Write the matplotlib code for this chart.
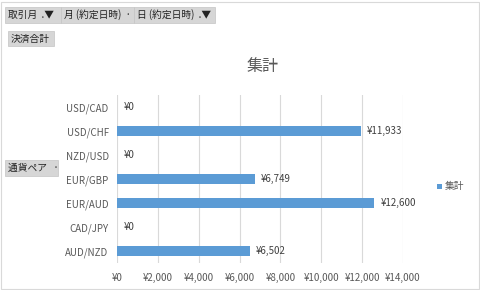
import matplotlib.pyplot as plt
from matplotlib.patches import Rectangle

# --- datos ---
pares = ["AUD/NZD", "CAD/JPY", "EUR/AUD", "EUR/GBP", "NZD/USD", "USD/CHF", "USD/CAD"]
totales = [6502, 0, 12600, 6749, 0, 11933, 0]
ticks_x = [0, 2000, 4000, 6000, 8000, 10000, 12000, 14000]

plt.rcParams['font.family'] = ['Noto Sans CJK JP', 'DejaVu Sans']

azul = "#5b9bd5"
gris_txt = "#595959"

fig = plt.figure(figsize=(4.8, 2.9), dpi=100)
W, H = 480, 290

# marco exterior
fig.patches.append(Rectangle((1 / W, 1 / H), 478 / W, 287 / H, transform=fig.transFigure,
                             fill=False, edgecolor="#d9d9d9", linewidth=0.8))


def boton(x0, y0, w, h, texto, size=7):
    # botones grises tipo tabla dinamica
    fig.patches.append(Rectangle((x0 / W, 1 - (y0 + h) / H), w / W, h / H,
                                 transform=fig.transFigure, facecolor="#d6d6d6",
                                 edgecolor="#c4c4c4", linewidth=0.5))
    fig.text((x0 + 3) / W, 1 - (y0 + h / 2) / H, texto, fontsize=size,
             va="center", ha="left", color="#222222")


# barra de filtros
boton(5, 7, 56, 16, "取引月  .▼")
boton(61, 7, 73, 16, "月 (約定日時)  ·")
boton(134, 7, 81, 16, "日 (約定日時)  .▼")
boton(8, 31, 46, 15, "決済合計")
boton(5, 160, 53, 16, "通貨ペア   ·")

# --- grafico ---
ax = fig.add_axes([117 / W, 1 - 263 / H, 286 / W, 168 / H])
ax.barh(pares, totales, height=0.42, color=azul, zorder=3)
ax.set_xlim(0, 14000)
ax.set_ylim(-0.5, len(pares) - 0.5)
ax.set_xticks(ticks_x)
ax.set_xticklabels([f"¥{v:,}" for v in ticks_x])
ax.grid(axis="x", color="#d9d9d9", linewidth=0.8, zorder=0)
ax.set_axisbelow(True)
for s in ax.spines.values():
    s.set_visible(False)
ax.tick_params(length=0, labelsize=7, colors=gris_txt, pad=6)
ax.tick_params(axis="x", pad=7)

for i, v in enumerate(totales):
    ax.annotate(f"¥{v:,}", (v, i), xytext=(4.5, 0), textcoords="offset points",
                va="center", ha="left", fontsize=7, color="#404040")

fig.text(263 / W, 1 - 67 / H, "集計", fontsize=11.5, color=gris_txt, ha="center", va="center")

# leyenda
fig.patches.append(Rectangle((437 / W, 1 - 189 / H), 5 / W, 5 / H, transform=fig.transFigure,
                             facecolor=azul, edgecolor="none"))
fig.text(445 / W, 1 - 186 / H, "集計", fontsize=7, color=gris_txt, ha="left", va="center")

fig.savefig("out.png", dpi=100)
